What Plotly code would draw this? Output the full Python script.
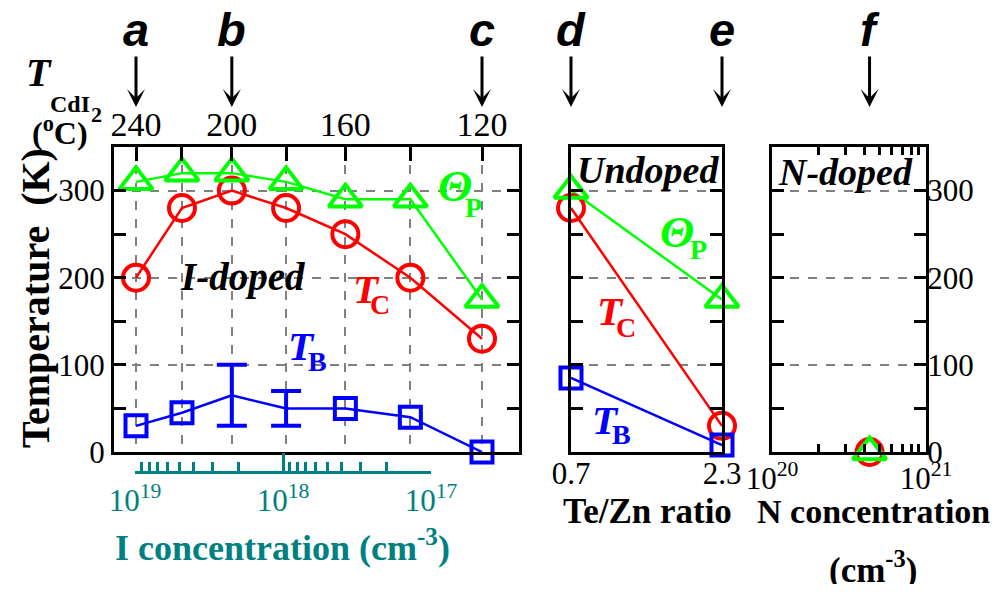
import math
import plotly.graph_objects as go

# page body has an 8px margin: figure is drawn inside it
OX, OY = 8, 8
W, H = 986, 576

# ---------------- data ----------------
T_cdi2 = [240, 220, 200, 180, 160, 140, 120]          # CdI2 cell temperature (deg C)
T_cdi2_labels = ['240', '', '200', '', '160', '', '120']
Tc_I = [200, 280, 300, 280, 250, 200, 130]
ThetaP_I = [310, 320, 320, 310, 290, 290, 175]
TB_I = [30, 45, 65, 50, 50, 40, 0]
TB_I_err = [None, None, 35, 20, None, None, None]

I_conc_ticks = [1e19, 1e18, 1e17]
I_conc_labels = ['10<sup>19</sup>', '10<sup>18</sup>', '10<sup>17</sup>']

TeZn = [0.7, 2.3]
TeZn_labels = ['0.7', '2.3']
Tc_U = [280, 30]
ThetaP_U = [300, 175]
TB_U = [85, 8]

N_conc = [4.3e20]
Tc_N = [0]
ThetaP_N = [0]
N_ticks = [1e20, 1e21]
N_labels = ['10<sup>20</sup>', '10<sup>21</sup>']

y_ticks = [0, 100, 200, 300]
y_minor = [50, 150, 250]

arrow_letters = ['a', 'b', 'c', 'd', 'e', 'f']

# ---------------- helpers ----------------
SERIF = 'Liberation Serif'
SANS = 'Liberation Sans'
RED, GREEN, BLUE, TEAL = '#ff0000', '#00ff00', '#0000ff', '#008080'


def px(x):
    return (x - OX) / W


def py(y):
    return 1 - (y - OY) / H


inv = [1000.0 / (t + 273.0) for t in T_cdi2]
scale = (482 - 136) / (inv[-1] - inv[0])
x_rng = [inv[0] - (136 - 114) / scale, inv[0] + (519 - 136) / scale]

I_minor = [k * 10 ** e for e in (17, 18) for k in range(2, 10)]
N_minor = [k * 1e20 for k in range(2, 10)]

ydom = [py(452), py(147)]

fig = go.Figure()


def line_trace(x, y, color, xa, ya):
    return go.Scatter(x=x, y=y, mode='lines', line=dict(color=color, width=2.5),
                      xaxis=xa, yaxis=ya, showlegend=False, hoverinfo='skip',
                      cliponaxis=False)


def mark_trace(x, y, color, symbol, size, xa, ya):
    return go.Scatter(x=x, y=y, mode='markers',
                      marker=dict(symbol=symbol, size=size, color=color,
                                  line=dict(color=color, width=4)),
                      xaxis=xa, yaxis=ya, showlegend=False, hoverinfo='skip',
                      cliponaxis=False)


# left panel (I-doped)
fig.add_trace(line_trace(inv, Tc_I, RED, 'x', 'y'))
fig.add_trace(line_trace(inv, ThetaP_I, GREEN, 'x', 'y'))
fig.add_trace(line_trace(inv, TB_I, BLUE, 'x', 'y'))
fig.add_trace(mark_trace(inv, Tc_I, RED, 'circle-open', 26, 'x', 'y'))
fig.add_trace(mark_trace(inv, ThetaP_I, GREEN, 'triangle-up-open', 29, 'x', 'y'))
idx_m = [i for i, e in enumerate(TB_I_err) if e is None]
idx_e = [i for i, e in enumerate(TB_I_err) if e is not None]
fig.add_trace(mark_trace([inv[i] for i in idx_m], [TB_I[i] for i in idx_m],
                         BLUE, 'square-open', 21, 'x', 'y'))
fig.add_trace(go.Scatter(x=[inv[i] for i in idx_e], y=[TB_I[i] for i in idx_e],
                         mode='markers', marker=dict(size=1, color=BLUE),
                         error_y=dict(type='data', array=[TB_I_err[i] for i in idx_e],
                                      visible=True, color=BLUE, thickness=4, width=15),
                         xaxis='x', yaxis='y', showlegend=False, hoverinfo='skip',
                         cliponaxis=False))

# dummy trace for I concentration axis
fig.add_trace(go.Scatter(x=I_conc_ticks, y=[None] * len(I_conc_ticks), mode='markers',
                         xaxis='x2', yaxis='y5', showlegend=False, hoverinfo='skip'))

# middle panel (undoped)
fig.add_trace(line_trace(TeZn, Tc_U, RED, 'x3', 'y3'))
fig.add_trace(line_trace(TeZn, ThetaP_U, GREEN, 'x3', 'y3'))
fig.add_trace(line_trace(TeZn, TB_U, BLUE, 'x3', 'y3'))
fig.add_trace(mark_trace(TeZn, Tc_U, RED, 'circle-open', 26, 'x3', 'y3'))
fig.add_trace(mark_trace(TeZn, ThetaP_U, GREEN, 'triangle-up-open', 29, 'x3', 'y3'))
fig.add_trace(mark_trace(TeZn, TB_U, BLUE, 'square-open', 21, 'x3', 'y3'))

# right panel (N-doped)
fig.add_trace(mark_trace(N_conc, Tc_N, RED, 'circle-open', 26, 'x4', 'y4'))
fig.add_trace(mark_trace(N_conc, ThetaP_N, GREEN, 'triangle-up-open', 29, 'x4', 'y4'))

# ---------------- axes ----------------
grid = dict(showgrid=True, gridcolor='#808080', griddash='dash', gridwidth=1.5)
frame = dict(showline=True, linewidth=3, linecolor='black', zeroline=False)
tfont = dict(family=SERIF, size=31, color='black')


def yaxis(anchor, labels, side='left', standoff=0):
    d = dict(domain=ydom, range=[0, 350], anchor=anchor, side=side,
             tickmode='array', tickvals=y_ticks, ticks='inside', ticklen=12,
             tickwidth=3, tickcolor='black', mirror='ticks',
             showticklabels=labels, tickfont=tfont, ticklabelstandoff=standoff,
             minor=dict(tickmode='array', tickvals=y_minor, ticks='inside',
                        ticklen=12, tickwidth=3, tickcolor='black', showgrid=False),
             fixedrange=True)
    d.update(grid)
    d.update(frame)
    return d


fig.update_layout(
    width=W, height=H,
    margin=dict(l=0, r=0, t=0, b=0, autoexpand=False),
    paper_bgcolor='white', plot_bgcolor='rgba(0,0,0,0)',
    showlegend=False,
    xaxis=dict(domain=[px(114), px(519)], range=x_rng, anchor='y', side='top',
               tickmode='array', tickvals=inv, ticktext=T_cdi2_labels,
               ticks='inside', ticklen=14, tickwidth=3, tickcolor='black',
               mirror=True, tickfont=dict(family=SERIF, size=34, color='black'),
               ticklabelstandoff=-6, **grid, **frame),
    yaxis=yaxis('x', True),
    xaxis2=dict(domain=[px(135), px(431)], type='log', range=[19, 17],
                anchor='free', position=py(472), side='bottom',
                tickmode='array', tickvals=I_conc_ticks, ticktext=I_conc_labels,
                ticks='inside', ticklen=18, tickwidth=3, tickcolor=TEAL,
                showline=True, linewidth=3, linecolor=TEAL, showgrid=False,
                zeroline=False,
                tickfont=dict(family=SERIF, size=31, color=TEAL),
                minor=dict(tickmode='array', tickvals=I_minor, ticks='inside',
                           ticklen=9, tickwidth=2.5, tickcolor=TEAL, showgrid=False)),
    yaxis5=dict(domain=ydom, anchor='x2', visible=False, showgrid=False,
                range=[0, 350]),
    xaxis3=dict(domain=[px(571), px(722)], range=[0.7, 2.3], anchor='y3',
                tickmode='array', tickvals=TeZn, ticktext=TeZn_labels, ticks='',
                mirror=True, showgrid=False, tickfont=tfont,
                ticklabelstandoff=-8, **frame),
    yaxis3=yaxis('x3', False),
    xaxis4=dict(domain=[px(772), px(926)], type='log', range=[20, 21], anchor='y4',
                tickmode='array', tickvals=N_ticks, ticktext=N_labels,
                ticks='inside', ticklen=8, tickwidth=2.5, tickcolor='black',
                mirror='ticks', showgrid=False, ticklabelstandoff=-3,
                tickfont=dict(family=SERIF, size=31, color='black'),
                minor=dict(tickmode='array', tickvals=N_minor, ticks='inside',
                           ticklen=8, tickwidth=2.5, tickcolor='black',
                           showgrid=False),
                **frame),
    yaxis4=yaxis('x4', True, side='right', standoff=-8),
)

# ---------------- annotations ----------------
ann = []
arrow_targets = [('x', inv[0]), ('x', inv[2]), ('x', inv[6]),
                 ('x3', TeZn[0]), ('x3', TeZn[1]), ('x4', math.log10(N_conc[0]))]
for (xr, xv), letter in zip(arrow_targets, arrow_letters):
    ann.append(dict(x=xv, xref=xr, y=py(107), yref='paper', ax=0, ay=-52,
                    axref='pixel', ayref='pixel', showarrow=True, arrowhead=3,
                    arrowsize=1.0, arrowwidth=3, arrowcolor='black', text=''))
    ann.append(dict(x=xv, xref=xr, y=py(30), yref='paper', showarrow=False,
                    text='<b><i>%s</i></b>' % letter,
                    font=dict(family=SANS, size=47, color='black'),
                    xanchor='center', yanchor='middle', borderpad=0))


def txt(text, x, y, size, color='black', family=SERIF, angle=0):
    ann.append(dict(x=px(x), y=py(y), xref='paper', yref='paper', text=text,
                    showarrow=False, xanchor='center', yanchor='middle',
                    textangle=angle, font=dict(family=family, size=size, color=color)))


# T_CdI2 (oC)
txt('<b><i>T</i></b>', 39, 72, 40)
txt('<b>CdI</b>', 70, 104, 24)
txt('<b>2</b>', 96, 114, 22)
txt('<b>(<sup>o</sup>C)</b>', 60, 131, 32)

# axis titles
txt('<b>Temperature  (K)</b>', 35, 298, 40, angle=-90)
txt('<b>I concentration (cm<sup>-3</sup>)</b>', 282, 545, 36, color=TEAL)
txt('<b>Te/Zn ratio</b>', 647, 511, 35)
txt('<b>N concentration</b>', 873, 511, 34)
txt('<b>(cm<sup>-3</sup>)</b>', 873, 567, 35)

# panel labels
txt('<b><i>I-doped</i></b>', 242, 277, 39)
txt('<b><i>Undoped</i></b>', 648, 170, 38)
txt('<b><i>N-doped</i></b>', 845, 172, 38)

# series labels: (main, sub, color, main xy, sub xy, main size)
series_labels = [
    ('Θ', 'P', GREEN, (455, 186), (473, 207), 45),
    ('T', 'C', RED, (366, 289), (380, 304), 41),
    ('T', 'B', BLUE, (301, 346), (317, 361), 41),
    ('Θ', 'P', GREEN, (677, 232), (698, 249), 45),
    ('T', 'C', RED, (610, 311), (626, 327), 41),
    ('T', 'B', BLUE, (605, 420), (621, 434), 41),
]
for main, sub, color, (mx, my), (sx, sy), msize in series_labels:
    txt('<b><i>%s</i></b>' % main, mx, my, msize, color=color)
    txt('<b>%s</b>' % sub, sx, sy, 28, color=color)

fig.update_layout(annotations=ann)

fig.write_html('out.html')
